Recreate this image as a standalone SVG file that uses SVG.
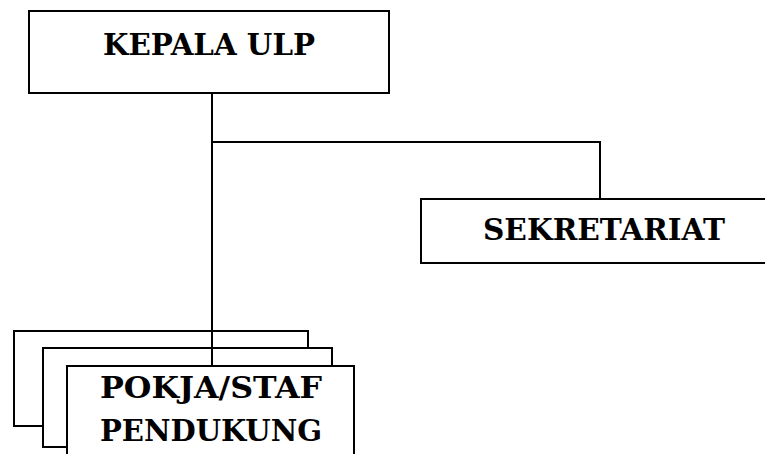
<svg xmlns="http://www.w3.org/2000/svg" width="765" height="454" viewBox="0 0 765 454">
<style>
.box{fill:#fff;stroke:#000;stroke-width:2}
.con{fill:none;stroke:#000;stroke-width:2}
.lbl{font-family:"DejaVu Serif","Liberation Serif",serif;font-weight:bold;font-size:29px;fill:#000;text-anchor:middle}
</style>
<rect width="765" height="454" fill="#fff"/>
<g id="connectors">
<path class="con" d="M212 93 V366 M212 142 H600 V199"/>
</g>
<g id="kepala">
<rect class="box" x="29" y="11" width="360" height="82"/>
<text class="lbl" x="209" y="55" textLength="212" lengthAdjust="spacingAndGlyphs">KEPALA ULP</text>
</g>
<g id="sekretariat">
<rect class="box" x="421" y="199" width="360" height="64"/>
<text class="lbl" x="604" y="240" textLength="242" lengthAdjust="spacingAndGlyphs">SEKRETARIAT</text>
</g>
<g id="pokja">
<rect class="box" x="14" y="331" width="294" height="95"/>
<rect class="box" x="43" y="348" width="289" height="99"/>
<rect class="box" x="67" y="366" width="287" height="100"/>
<path class="con" d="M212 331 V366"/>
<text class="lbl" x="211" y="398" textLength="222" lengthAdjust="spacingAndGlyphs">POKJA/STAF</text>
<text class="lbl" x="211" y="441" textLength="222" lengthAdjust="spacingAndGlyphs">PENDUKUNG</text>
</g>
</svg>
